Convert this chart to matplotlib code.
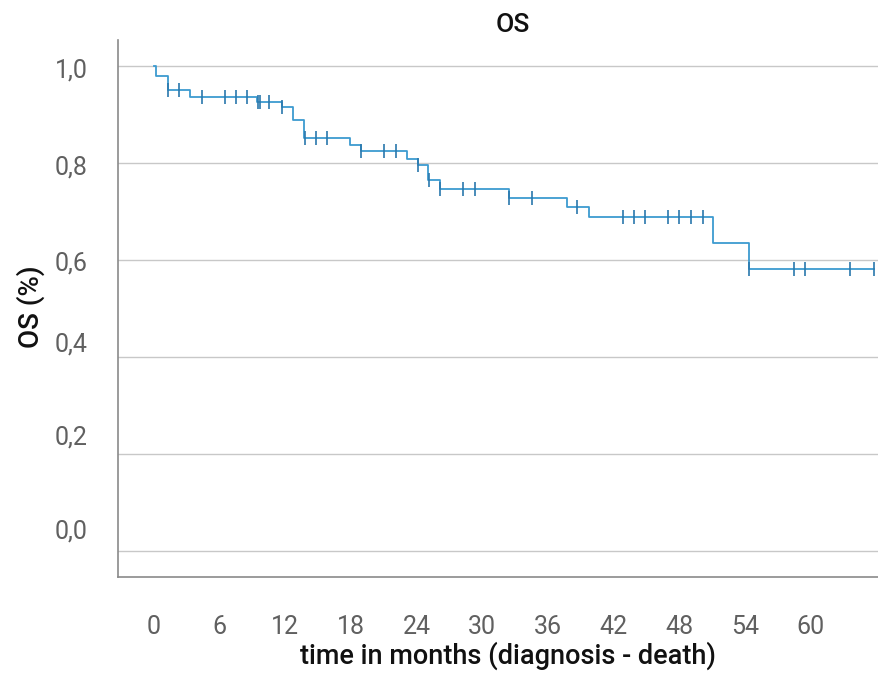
import numpy as np
import matplotlib
matplotlib.use('Agg')
import matplotlib.pyplot as plt

plt.rcParams['font.family'] = ['Roboto', 'DejaVu Sans']

# Kaplan-Meier steps (time in months, survival)
step_times = [0, 0.2, 1.25, 3.3, 9.45, 11.65, 12.7, 13.7, 17.9, 18.9, 23.1, 24.1,
              25.0, 26.1, 32.4, 37.7, 39.75, 51.1, 54.35, 65.8]
step_surv = [1.0, 0.980, 0.950, 0.937, 0.926, 0.915, 0.889, 0.851, 0.838, 0.824,
             0.809, 0.796, 0.764, 0.747, 0.728, 0.709, 0.688, 0.634, 0.581, 0.581]

# censored observations
censor_times = [1.25, 2.3, 4.35, 6.5, 7.5, 8.5, 9.5, 9.7, 10.5, 11.7, 13.75, 14.8, 15.8,
                18.95, 21.0, 22.1, 24.15, 25.15, 26.15, 28.2, 29.3, 32.45, 34.5, 38.7,
                42.85, 43.85, 44.9, 47.0, 48.0, 49.1, 50.15, 54.35, 58.5, 59.5, 63.6, 65.8]

xticks = [0, 6, 12, 18, 24, 30, 36, 42, 48, 54, 60]
grid_vals = [0.0, 0.2, 0.4, 0.6, 0.8, 1.0]
ytick_labels = ['0,0', '0,2', '0,4', '0,6', '0,8', '1,0']
# the labels in the original sit slightly off their gridlines
ytick_label_pos = [0.044, 0.238, 0.430, 0.598, 0.796, 0.995]

fig = plt.figure(figsize=(8.79, 6.73), dpi=100)
ax = fig.add_axes([0.1342, 0.1426, 0.8987, 0.7979])

for g in grid_vals:
    ax.axhline(g, color='#c8c8c8', lw=1.0, zorder=0)

ax.step(step_times, step_surv, where='post', color='#3d9bd0', lw=1.3, zorder=2)

idx = np.searchsorted(step_times, censor_times, side='right') - 1
censor_surv = np.array(step_surv)[idx]
ax.plot(censor_times, censor_surv, ls='none', marker='|', ms=10, mew=1.2,
        color='#2a78ad', zorder=3)

ax.set_xlim(-3.3, 68.9)
ax.set_ylim(-0.0547, 1.0537)
ax.set_xticks(xticks)
ax.set_xticklabels([str(x) for x in xticks])
ax.set_yticks(ytick_label_pos)
ax.set_yticklabels(ytick_labels)
ax.tick_params(axis='both', length=0, labelsize=18, colors='#606060')
ax.tick_params(axis='x', pad=27)
ax.tick_params(axis='y', pad=22)

for s in ['top', 'right']:
    ax.spines[s].set_visible(False)
for s in ['left', 'bottom']:
    ax.spines[s].set_color('#8a8a8a')
    ax.spines[s].set_linewidth(1.2)

ax.set_title('OS', fontsize=19, fontweight='medium', color='#111111', pad=6)
ax.set_xlabel('time in months (diagnosis - death)', fontsize=19.5, fontweight='medium',
              color='#111111', va='center')
ax.xaxis.set_label_coords(0.494, -0.147)
ax.set_ylabel('OS (%)', fontsize=20, fontweight='medium', color='#111111', va='center')
ax.yaxis.set_label_coords(-0.111, 0.503)

plt.savefig('out.png', dpi=100)
